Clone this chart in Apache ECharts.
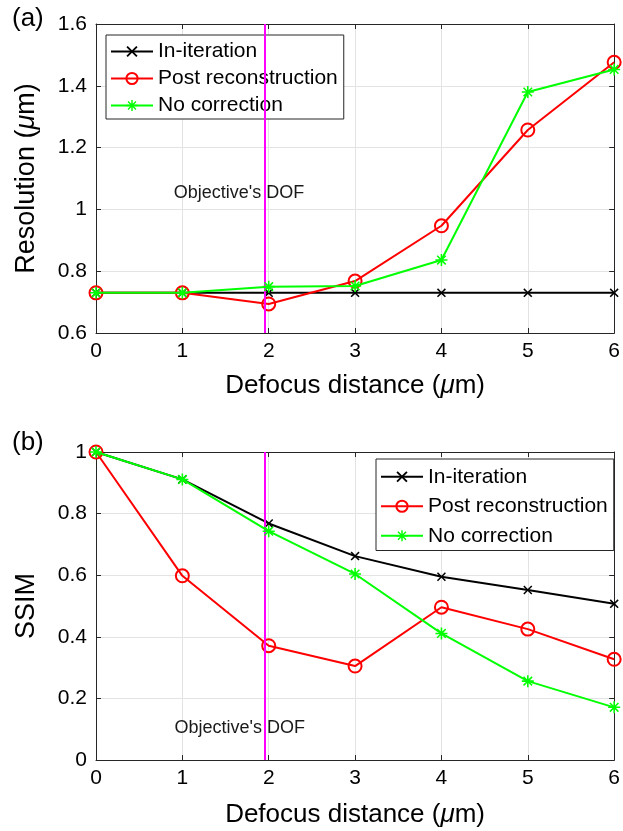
<!DOCTYPE html>
<html>
<head>
<meta charset="utf-8">
<script src="https://cdn.jsdelivr.net/npm/echarts@6/dist/echarts.min.js"></script>
<style>
  html, body { margin: 0; padding: 0; background: #fff; }
  #chart { width: 623px; height: 831px; }
</style>
</head>
<body>
<div id="chart"></div>
<script>
// Defocus distances (µm) shared by both panels
const defocus = [0, 1, 2, 3, 4, 5, 6];

// (a) Resolution (µm)
const resInIteration = [0.73, 0.73, 0.73, 0.73, 0.73, 0.73, 0.73];
const resPostRecon   = [0.73, 0.73, 0.694, 0.768, 0.947, 1.257, 1.476];
const resNoCorr      = [0.73, 0.73, 0.75, 0.752, 0.836, 1.38, 1.453];

// (b) SSIM
const ssimInIteration = [1.0, 0.911, 0.768, 0.662, 0.595, 0.552, 0.507];
const ssimPostRecon   = [1.0, 0.598, 0.371, 0.305, 0.496, 0.425, 0.327];
const ssimNoCorr      = [1.0, 0.911, 0.743, 0.604, 0.411, 0.256, 0.171];

// Axis ticks
const xTicks = [0, 1, 2, 3, 4, 5, 6];
const resTicks = [0.6, 0.8, 1.0, 1.2, 1.4, 1.6];
const ssimTicks = [0, 0.2, 0.4, 0.6, 0.8, 1.0];

// Objective's depth of field marker
const dofDistance = 1.95;
const dofLabel = "Objective's DOF";

const seriesNames = ['In-iteration', 'Post reconstruction', 'No correction'];

const FONT = "'Liberation Sans', Arial, Helvetica, sans-serif";
const AXIS_COLOR = '#262626';
const GRID_COLOR = '#e3e3e3';

// Marker shapes: filled outlines so they render identically in plot and legend
const CROSS = 'path://M0,1.2L1.2,0L5,3.8L8.8,0L10,1.2L6.2,5L10,8.8L8.8,10L5,6.2L1.2,10L0,8.8L3.8,5Z';
const STAR = 'path://M4.35,0L5.65,0L5.65,10L4.35,10Z' +
  'M0,4.35L10,4.35L10,5.65L0,5.65Z' +
  'M1.0,1.9L1.9,1.0L5,4.1L8.1,1.0L9.0,1.9L5.9,5L9.0,8.1L8.1,9.0L5,5.9L1.9,9.0L1.0,8.1L4.1,5Z';

const pairs = (ys) => defocus.map((x, i) => [x, ys[i]]);
const mu = (pre, post) => `{n|${pre}}{i|μ}{n|${post}}`;
const nameRich = (size) => ({
  n: { fontFamily: FONT, fontSize: size, color: '#000' },
  i: { fontFamily: FONT, fontSize: size, color: '#000', fontStyle: 'italic' }
});

function xAxes(gridIndex, nameGap) {
  const common = {
    type: 'value', gridIndex,
    min: xTicks[0], max: xTicks[xTicks.length - 1], interval: 1,
    axisLine: { show: true, onZero: false, lineStyle: { color: AXIS_COLOR, width: 1 } },
    axisTick: { show: true, inside: true, length: 5, lineStyle: { color: AXIS_COLOR } }
  };
  return [
    Object.assign({}, common, {
      position: 'bottom',
      name: mu('Defocus distance (', 'm)'),
      nameLocation: 'middle', nameGap,
      nameTextStyle: { rich: nameRich(26) },
      axisLabel: { fontFamily: FONT, fontSize: 21, color: '#000', margin: 8 },
      splitLine: { show: true, lineStyle: { color: GRID_COLOR, width: 1 } }
    }),
    Object.assign({}, common, {
      position: 'top',
      axisLabel: { show: false },
      splitLine: { show: false }
    })
  ];
}

function yAxes(gridIndex, ticks, name, nameGap) {
  const common = {
    type: 'value', gridIndex,
    min: ticks[0], max: ticks[ticks.length - 1], interval: 0.2,
    axisLine: { show: true, onZero: false, lineStyle: { color: AXIS_COLOR, width: 1 } },
    axisTick: { show: true, inside: true, length: 5, lineStyle: { color: AXIS_COLOR } }
  };
  return [
    Object.assign({}, common, {
      position: 'left',
      name, nameLocation: 'middle', nameGap,
      nameTextStyle: { fontFamily: FONT, fontSize: 27, color: '#000', rich: nameRich(27) },
      axisLabel: { fontFamily: FONT, fontSize: 21, color: '#000', margin: 9 },
      splitLine: { show: true, lineStyle: { color: GRID_COLOR, width: 1 } }
    }),
    Object.assign({}, common, {
      position: 'right',
      axisLabel: { show: false },
      splitLine: { show: false }
    })
  ];
}

function dataSeries(xIdx, yIdx, inIter, post, none) {
  return [
    {
      name: seriesNames[0], type: 'line', xAxisIndex: xIdx, yAxisIndex: yIdx,
      data: pairs(inIter), symbol: CROSS, symbolSize: 9, symbolKeepAspect: true,
      lineStyle: { color: '#000', width: 2 },
      itemStyle: { color: '#000', borderWidth: 0 },
      emphasis: { disabled: true }, z: 3
    },
    {
      name: seriesNames[1], type: 'line', xAxisIndex: xIdx, yAxisIndex: yIdx,
      data: pairs(post), symbol: 'circle', symbolSize: 13,
      lineStyle: { color: '#ff0000', width: 2 },
      itemStyle: { color: 'rgba(255,255,255,0)', borderColor: '#ff0000', borderWidth: 2 },
      emphasis: { disabled: true }, z: 4
    },
    {
      name: seriesNames[2], type: 'line', xAxisIndex: xIdx, yAxisIndex: yIdx,
      data: pairs(none), symbol: STAR, symbolSize: 12, symbolKeepAspect: true,
      lineStyle: { color: '#00ff00', width: 2 },
      itemStyle: { color: '#00ff00', borderWidth: 0 },
      emphasis: { disabled: true }, z: 5
    },
    {
      name: 'dof', type: 'line', xAxisIndex: xIdx, yAxisIndex: yIdx,
      data: [], silent: true, z: 2,
      markLine: {
        silent: true, symbol: 'none', animation: false,
        label: { show: false },
        lineStyle: { color: '#ff00ff', width: 2, type: 'solid' },
        data: [{ xAxis: dofDistance }]
      }
    }
  ];
}

function dofText(xIdx, yIdx, coord) {
  return {
    name: 'dofText', type: 'scatter', xAxisIndex: xIdx, yAxisIndex: yIdx,
    data: [], silent: true, z: 6,
    markPoint: {
      silent: true, animation: false, symbol: 'circle', symbolSize: 0,
      label: { show: true, position: 'inside', formatter: dofLabel,
               fontFamily: FONT, fontSize: 18, color: '#1a1a1a' },
      data: [{ coord }]
    }
  };
}

function legend(left, top, lineHeight) {
  return {
    left, top, orient: 'vertical',
    data: seriesNames,
    itemWidth: 42, itemHeight: 14, itemGap: 0,
    padding: [3, 6, 0, 4],
    backgroundColor: '#fff',
    borderColor: AXIS_COLOR, borderWidth: 1, borderRadius: 0,
    selectedMode: false,
    textStyle: { fontFamily: FONT, fontSize: 21, color: '#000', lineHeight }
  };
}

const chart = echarts.init(document.getElementById('chart'), null, { renderer: 'canvas' });

chart.setOption({
  animation: false,
  backgroundColor: '#fff',
  title: [
    { text: '(a)', left: 12, top: 6, padding: 0,
      textStyle: { fontFamily: FONT, fontSize: 26, fontWeight: 'normal', color: '#000' } },
    { text: '(b)', left: 12, top: 430, padding: 0,
      textStyle: { fontFamily: FONT, fontSize: 26, fontWeight: 'normal', color: '#000' } }
  ],
  grid: [
    { left: 96, top: 24, width: 519, height: 309, containLabel: false },
    { left: 96, top: 452, width: 519, height: 308, containLabel: false }
  ],
  legend: [legend(106, 35, 27), legend(376, 459, 29.5)],
  xAxis: [...xAxes(0, 40), ...xAxes(1, 42)],
  yAxis: [
    ...yAxes(0, resTicks, mu('Resolution (', 'm)'), 56),
    ...yAxes(1, ssimTicks, 'SSIM', 56)
  ],
  series: [
    ...dataSeries(0, 0, resInIteration, resPostRecon, resNoCorr),
    ...dataSeries(2, 2, ssimInIteration, ssimPostRecon, ssimNoCorr),
    dofText(0, 0, [1.655, 1.053]),
    dofText(2, 2, [1.665, 0.105])
  ]
});
</script>
</body>
</html>
